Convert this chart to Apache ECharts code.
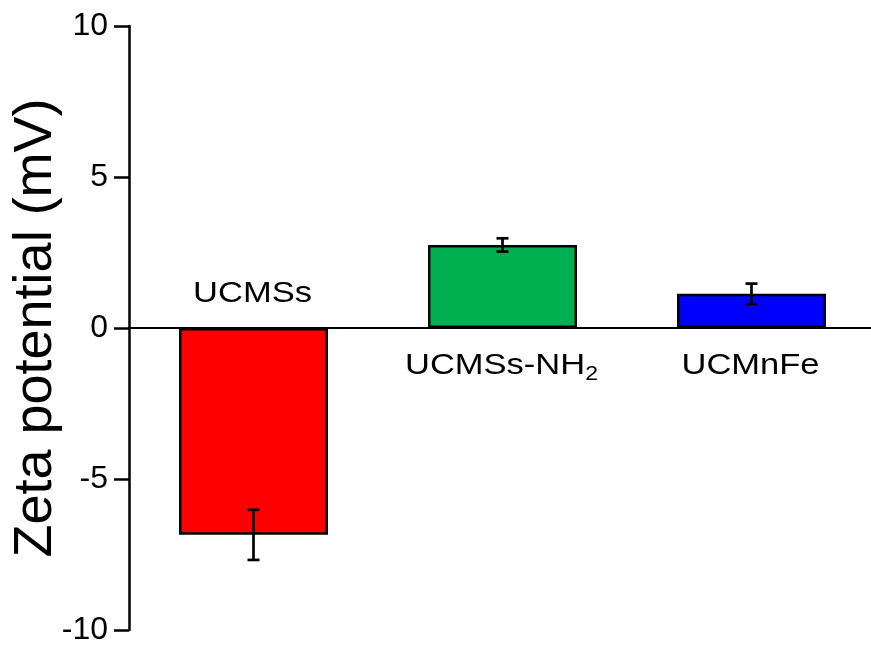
<!DOCTYPE html>
<html><head><meta charset="utf-8">
<script src="https://cdn.jsdelivr.net/npm/echarts@6/dist/echarts.min.js"></script>
<style>html,body{margin:0;padding:0;background:#fff;overflow:hidden;width:871px;height:647px}#c{width:880px;height:647px}</style>
</head><body><div id="c"></div>
<script>
var categories = ['UCMSs', 'UCMSs-NH2', 'UCMnFe'];
var labelTexts = ['UCMSs', 'UCMSs-NH{sub|2}', 'UCMnFe'];
var values = [-6.85, 2.75, 1.13];
var errors = [0.83, 0.22, 0.34];
var colors = ['#ff0000', '#00b050', '#0000ff'];
var yTicks = [-10, -5, 0, 5, 10];

var chart = echarts.init(document.getElementById('c'));
var font = 'Liberation Sans, Arial, sans-serif';
chart.setOption({
  animation: false,
  grid: { left: 129, width: 747, top: 26, bottom: 17, containLabel: false, outerBoundsMode: 'none' },
  xAxis: {
    type: 'category', data: categories,
    axisLine: { onZero: true, lineStyle: { color: '#000', width: 2 } },
    axisTick: { show: false }, axisLabel: { show: false }
  },
  yAxis: {
    type: 'value', min: yTicks[0], max: yTicks[yTicks.length - 1], interval: 5,
    name: 'Zeta potential (mV)', nameLocation: 'middle', nameGap: 66, nameMoveOverlap: false,
    nameTextStyle: { fontFamily: font, fontSize: 54, color: '#000' },
    axisLine: { show: true, lineStyle: { color: '#000', width: 2.5 } },
    axisTick: { show: true, length: 15, lineStyle: { color: '#000', width: 2.5 } },
    axisLabel: { fontFamily: font, fontSize: 32, color: '#000', margin: 21 },
    splitLine: { show: false }
  },
  series: [
    {
      type: 'bar', barWidth: 149,
      data: values.map(function (v, i) {
        return { value: v, itemStyle: { color: colors[i], borderColor: '#000', borderWidth: 2.5 } };
      })
    },
    {
      type: 'custom',
      data: values.map(function (v, i) { return [i, v, errors[i]]; }),
      renderItem: function (params, api) {
        var x = api.value(0), v = api.value(1), e = api.value(2);
        var top = api.coord([x, v + e]);
        var bot = api.coord([x, v - e]);
        var hw = 6;
        var st = { stroke: '#000', lineWidth: 2.7 };
        return { type: 'group', children: [
          { type: 'line', shape: { x1: top[0], y1: top[1], x2: bot[0], y2: bot[1] }, style: st },
          { type: 'line', shape: { x1: top[0] - hw, y1: top[1], x2: top[0] + hw, y2: top[1] }, style: st },
          { type: 'line', shape: { x1: bot[0] - hw, y1: bot[1], x2: bot[0] + hw, y2: bot[1] }, style: st }
        ]};
      },
      z: 5
    },
    {
      type: 'custom',
      data: values.map(function (v, i) { return [i, 0, v < 0 ? 1 : -1]; }),
      renderItem: function (params, api) {
        var i = api.value(0);
        var side = api.value(2);
        var p = api.coord([i, 0]);
        var y = side > 0 ? p[1] - 34 : p[1] + 38;
        return {
          type: 'text', x: p[0] - 1, y: y, scaleX: 1.15,
          style: {
            text: labelTexts[params.dataIndex],
            align: 'center', verticalAlign: 'middle',
            fontFamily: font, fontSize: 30, fill: '#000',
            rich: {
              sub: { fontFamily: font, fontSize: 20, fill: '#000', padding: [16, 0, 0, 0] }
            }
          }
        };
      },
      z: 6
    }
  ]
});
</script></body></html>
